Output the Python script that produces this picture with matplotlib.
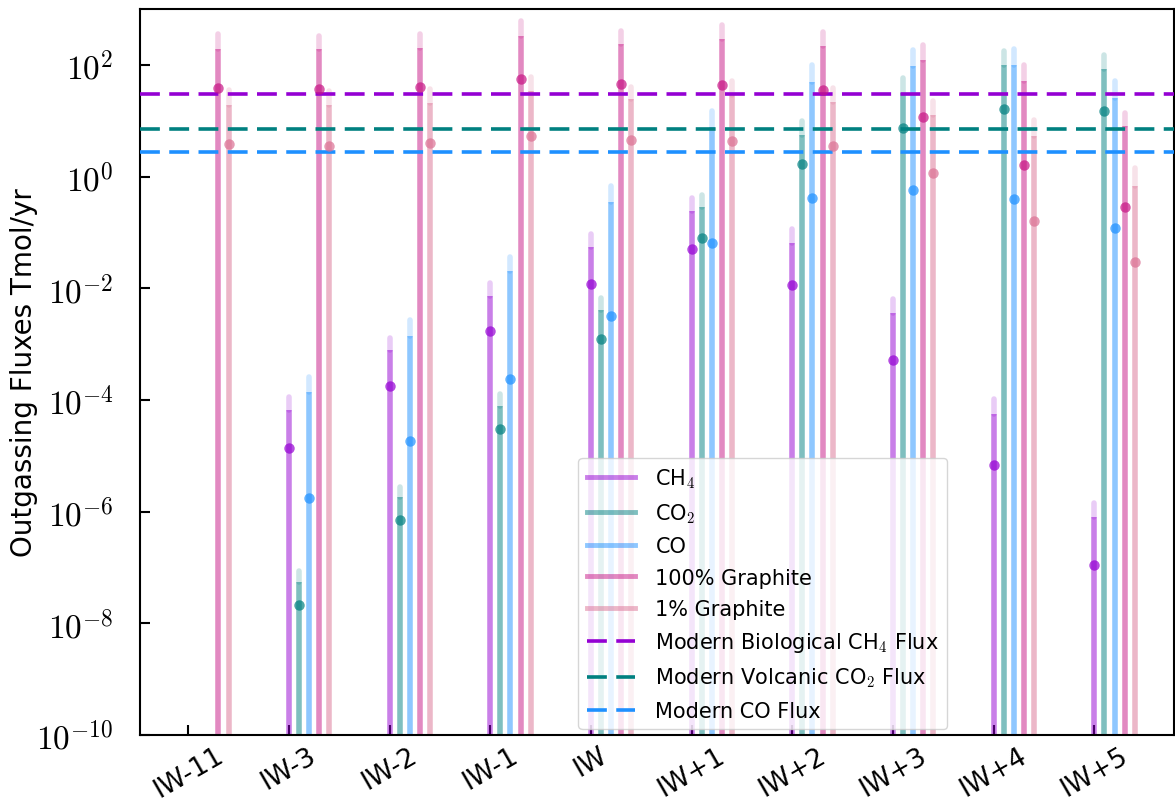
'''
Outgassing fluxes of CH4, CO2 and CO for a range of oxygen fugacities,
compared with modern biological / volcanic fluxes.
'''

import numpy as np
import matplotlib
matplotlib.use('Agg')
import matplotlib.pyplot as plt
from matplotlib.lines import Line2D
from matplotlib.ticker import FuncFormatter, NullLocator

plt.rcParams['font.family'] = 'DejaVu Sans'
plt.rcParams['mathtext.fontset'] = 'cm'

FIG_SIZE = [11.75, 8.03]

nan = np.nan

labels = ['IW-11', 'IW-3', 'IW-2', 'IW-1', 'IW', 'IW+1', 'IW+2', 'IW+3', 'IW+4', 'IW+5']

# upper value (light tip), lower value (dark bar top), median (dot)
ch4_hi = [nan, 1.15e-4, 1.3e-3, 1.26e-2, 9.3e-2, 0.41, 0.115, 6.5e-3, 1.05e-4, 1.45e-6]
ch4_lo = [nan, 6.6e-5, 7.8e-4, 7.4e-3, 5.4e-2, 0.24, 6.5e-2, 3.6e-3, 5.6e-5, 7.9e-7]
ch4_med = [nan, 1.4e-5, 1.8e-4, 1.74e-3, 1.2e-2, 5.0e-2, 1.15e-2, 5.2e-4, 6.8e-6, 1.1e-7]

co2_hi = [nan, 8.7e-8, 2.8e-6, 1.26e-4, 6.8e-3, 0.47, 10, 58, 178, 151]
co2_lo = [nan, 5.5e-8, 1.86e-6, 7.9e-5, 4.0e-3, 0.28, 5.6, 32, 98, 85]
co2_med = [nan, 2.1e-8, 7.2e-7, 3.0e-5, 1.26e-3, 8.1e-2, 1.66, 7.4, 16, 15]

co_hi = [nan, 2.6e-4, 2.7e-3, 3.7e-2, 0.69, 14.8, 98, 186, 195, 52]
co_lo = [nan, 1.38e-4, 1.38e-3, 2.0e-2, 0.35, 7.6, 50, 95, 98, 26]
co_med = [nan, 1.74e-6, 1.86e-5, 2.4e-4, 3.2e-3, 6.5e-2, 0.41, 0.58, 0.40, 0.12]

gr100_hi = [355, 331, 363, 603, 398, 513, 389, 229, 98, 13.5]
gr100_lo = [191, 191, 204, 331, 234, 288, 214, 123, 52, 7.9]
gr100_med = [38, 37, 40, 55, 46, 44, 36, 11.7, 1.6, 0.29]

gr1_hi = [35, 34, 37, 60, 41, 52, 39, 23, 10.2, 1.4]
gr1_lo = [19, 19, 21, 34, 24, 29, 22, 12.6, 5.4, 0.69]
gr1_med = [3.8, 3.6, 4.0, 5.4, 4.6, 4.4, 3.6, 1.17, 0.16, 0.029]

# modern reference fluxes, Tmol/yr
modern_ch4 = 30
modern_co2 = 7.0
modern_co = 2.7

YMIN = 1e-10

SERIES = [
    (r'CH$_4$', 'darkviolet', ch4_hi, ch4_lo, ch4_med),
    (r'CO$_2$', 'teal', co2_hi, co2_lo, co2_med),
    ('CO', 'dodgerblue', co_hi, co_lo, co_med),
    ('100% Graphite', 'mediumvioletred', gr100_hi, gr100_lo, gr100_med),
    ('1% Graphite', 'palevioletred', gr1_hi, gr1_lo, gr1_med),
]


def log_label(v, pos):
    return r'$10^{%d}$' % round(np.log10(v))


def plot_fluxes(series = SERIES):
    fig = plt.figure(figsize = FIG_SIZE, dpi = 100)
    ax = fig.add_axes([0.1191, 0.0834, 0.8800, 0.9041])
    x = np.arange(len(labels))
    handles = []

    for i, (name, color, hi, lo, med) in enumerate(series):
        xs = x + 0.1 * i
        light = ax.vlines(xs, lo, hi, color = color, alpha = 0.2, lw = 4, zorder = 2)
        ax.vlines(xs, YMIN, lo, color = color, alpha = 0.5, lw = 4, zorder = 2)
        light.set_capstyle('round')
        ax.plot(xs, med, 'o', color = color, alpha = 0.7, ms = 7.5, mew = 0, zorder = 4)
        handles.append(Line2D([], [], color = color, alpha = 0.5, lw = 3.5))

    dash = (0, (5.5, 2.6))
    ax.axhline(modern_ch4, color = 'darkviolet', ls = dash, lw = 2.6, zorder = 3)
    ax.axhline(modern_co2, color = 'teal', ls = dash, lw = 2.6, zorder = 3)
    ax.axhline(modern_co, color = 'dodgerblue', ls = dash, lw = 2.6, zorder = 3)
    handles += [
        Line2D([], [], color = 'darkviolet', ls = dash, lw = 2.6),
        Line2D([], [], color = 'teal', ls = dash, lw = 2.6),
        Line2D([], [], color = 'dodgerblue', ls = dash, lw = 2.6),
    ]
    names = [s[0] for s in series] + [
        r'Modern Biological CH$_4$ Flux',
        r'Modern Volcanic CO$_2$ Flux',
        'Modern CO Flux',
    ]

    ax.set_yscale('log')
    ax.set_ylim(YMIN, 1e3)
    ax.set_xlim(-0.48, 9.79)
    ax.set_yticks([1e-10, 1e-8, 1e-6, 1e-4, 1e-2, 1e0, 1e2])
    ax.yaxis.set_minor_locator(NullLocator())
    ax.yaxis.set_major_formatter(FuncFormatter(log_label))
    ax.set_xticks(x)
    ax.set_xticklabels(labels, rotation = 30, ha = 'center')
    ax.tick_params(direction = 'in', length = 7, width = 1.5)
    ax.tick_params(axis = 'y', labelsize = 24, pad = 19)
    ax.tick_params(axis = 'x', labelsize = 19, pad = 5)
    for s in ax.spines.values():
        s.set_linewidth(1.5)
    ax.set_ylabel('Outgassing Fluxes Tmol/yr', fontsize = 20)
    ax.yaxis.set_label_coords(-0.099, 0.5)

    ax.legend(handles, names, loc = 'lower right', bbox_to_anchor = (0.781, 0.008),
              borderaxespad = 0, fontsize = 15, handlelength = 2.3,
              labelspacing = 0.55, handletextpad = 1.0)

    fig.savefig('out.png', dpi = 100)
    plt.close(fig)


plot_fluxes()
